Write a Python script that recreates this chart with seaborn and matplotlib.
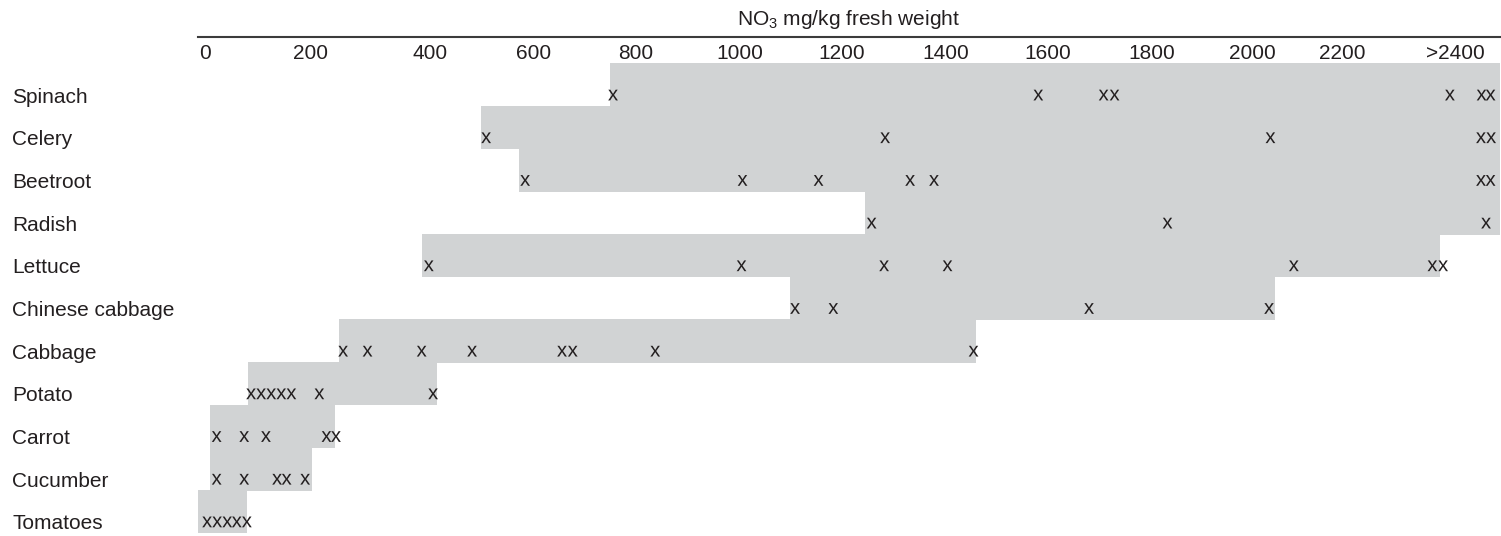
import numpy as np
import pandas as pd
import matplotlib
matplotlib.use("Agg")
import matplotlib.pyplot as plt
import seaborn as sns

# ---------------------------------------------------------------- data
crops = ["Spinach", "Celery", "Beetroot", "Radish", "Lettuce",
         "Chinese cabbage", "Cabbage", "Potato", "Carrot", "Cucumber", "Tomatoes"]

# range of nitrate content per crop (mg/kg fresh weight); 2480 = open end ">2400"
range_low = [749, 498, 571, 1244, 387, 1098, 247, 81, 9, 9, -13]
range_high = [2480, 2480, 2480, 2480, 2373, 2051, 1459, 413, 240, 202, 79]

# individual reported values, one "x" each
spinach = [755, 1581, 1707, 1728, 2391, 2447, 2463]
celery = [508, 1283, 2041, 2446, 2464]
beetroot = [583, 1005, 1154, 1331, 1377, 2446, 2463]
radish = [1257, 1831, 2455]
lettuce = [398, 1003, 1281, 1403, 2093, 2360, 2379]
chinese_cabbage = [1108, 1183, 1679, 2038]
cabbage = [254, 295, 386, 481, 655, 676, 837, 1454]
potato = [87, 106, 125, 144, 163, 214, 406]
carrot = [22, 74, 115, 226, 242]
cucumber = [22, 74, 136, 154, 189]
tomatoes = [4, 23, 42, 60, 79]

tick_values = [0, 200, 400, 600, 800, 1000, 1200, 1400, 1600, 1800, 2000, 2200, 2400]
tick_labels = ["0", "200", "400", "600", "800", "1000", "1200", "1400",
               "1600", "1800", "2000", "2200", ">2400"]

# ---------------------------------------------------------------- layout / style
FIG_W, FIG_H, DPI = 1501, 536, 100
AX_LEFT_PX, AX_RIGHT_PX, AX_TOP_PX = 198, 1500, 37
# horizontal position (px) of each tick value along the printed scale
scale_anchor_px = [205, 311, 430, 534, 636, 740, 842, 946, 1048, 1152, 1252, 1342, 1455]
BAND_SHIFT = 0.24          # shaded bands sit slightly above the row of x marks
GREY = "#d1d3d4"
INK = "#231f20"
FS = 15

sns.set_theme(style="white")
plt.rcParams["font.family"] = ["Liberation Sans", "DejaVu Sans"]
plt.rcParams["mathtext.fontset"] = "custom"
plt.rcParams["mathtext.rm"] = "Liberation Sans"
plt.rcParams["mathtext.it"] = "Liberation Sans:italic"
plt.rcParams["mathtext.bf"] = "Liberation Sans:bold"
plt.rcParams["mathtext.default"] = "regular"

# piecewise-linear value <-> position mapping of the printed scale
_v = np.asarray(tick_values, float)
_p = np.asarray(scale_anchor_px, float)
_lo = (_p[1] - _p[0]) / (_v[1] - _v[0])
_hi = (_p[-1] - _p[-2]) / (_v[-1] - _v[-2])
_V = np.concatenate([[_v[0] - 1e5], _v, [_v[-1] + 1e5]])
_P = np.concatenate([[_p[0] - 1e5 * _lo], _p, [_p[-1] + 1e5 * _hi]])


def forward(x):
    return np.interp(np.asarray(x, float), _V, _P)


def inverse(y):
    return np.interp(np.asarray(y, float), _P, _V)


fig = plt.figure(figsize=(FIG_W / DPI, FIG_H / DPI), dpi=DPI)
ax = fig.add_axes([AX_LEFT_PX / FIG_W, 0,
                   (AX_RIGHT_PX - AX_LEFT_PX) / FIG_W, (FIG_H - AX_TOP_PX) / FIG_H])
ax.set_xscale("function", functions=(forward, inverse))

rows = np.arange(len(crops))
low = np.asarray(range_low, float)
high = np.asarray(range_high, float)

# shaded concentration ranges
ax.barh(rows - BAND_SHIFT, high - low, left=low, height=1.02,
        color=GREY, linewidth=0, zorder=1)

# individual values as x marks
samples = [spinach, celery, beetroot, radish, lettuce, chinese_cabbage,
           cabbage, potato, carrot, cucumber, tomatoes]
records = [(crop, i, v) for i, (crop, vals) in enumerate(zip(crops, samples)) for v in vals]
df = pd.DataFrame(records, columns=["crop", "row", "nitrate"])
sns.scatterplot(data=df, x="nitrate", y="row", marker=r"$\mathregular{x}$", s=60,
                color=INK, edgecolor="none", linewidth=0, legend=False, ax=ax, zorder=3)

ax.set_xlim(inverse(AX_LEFT_PX), inverse(AX_RIGHT_PX))
ax.set_ylim(10.33, -1.36)

# x axis on top, labels printed just under the rule
ax.xaxis.tick_top()
ax.set_xticks(tick_values)
ax.set_xticklabels(tick_labels)
ax.minorticks_off()
ax.tick_params(axis="x", which="both", top=True, bottom=False, labeltop=True,
               labelbottom=False, length=0, pad=-5, labelsize=FS, labelcolor=INK)
for lab in ax.get_xticklabels():
    lab.set_va("top")

ax.xaxis.set_label_position("top")
ax.set_xlabel(r"NO$_3$ mg/kg fresh weight", fontsize=FS, color=INK, labelpad=8.5)

# crop names, left aligned at the figure margin
ax.set_yticks(rows)
ax.set_yticklabels(crops)
ax.tick_params(axis="y", length=0, pad=(AX_LEFT_PX - 12) * 72 / DPI,
               labelsize=FS, labelcolor=INK)
for lab in ax.get_yticklabels():
    lab.set_ha("left")

ax.set_ylabel("")
ax.grid(False)
for side in ("left", "right", "bottom"):
    ax.spines[side].set_visible(False)
ax.spines["top"].set_visible(True)
ax.spines["top"].set_color("#3c3c3c")
ax.spines["top"].set_linewidth(1.5)

fig.savefig("out.png", dpi=DPI)
